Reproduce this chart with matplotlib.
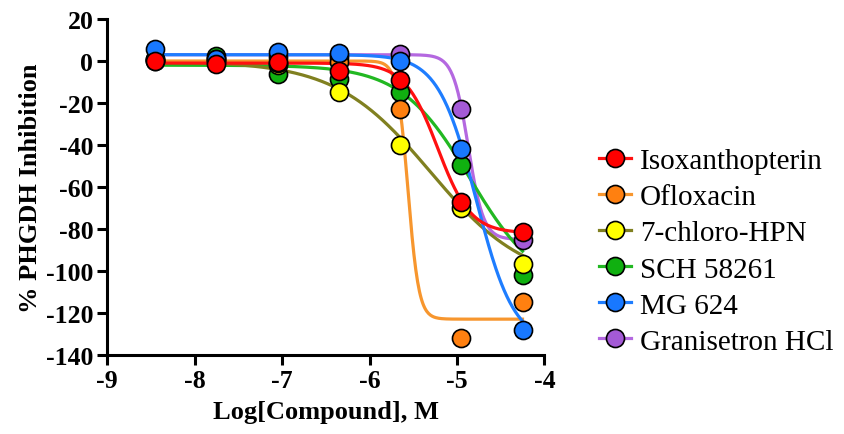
import numpy as np
import matplotlib
matplotlib.use("Agg")
import matplotlib.pyplot as plt
from matplotlib.lines import Line2D

plt.rcParams['font.family'] = ['Liberation Serif', 'DejaVu Serif']
plt.rcParams['axes.unicode_minus'] = False

# log concentration of each dose (M)
log_conc = [-8.45, -7.75, -7.05, -6.35, -5.65, -4.95, -4.25]

names = ['Isoxanthopterin', 'Ofloxacin', '7-chloro-HPN', 'SCH 58261', 'MG 624', 'Granisetron HCl']

# % inhibition
isoxanthopterin = [0, -1.4, -0.5, -5, -9, -67, -81.5]
ofloxacin = [0, -0.5, -1, -0.5, -23, -132, -115]
chloro_hpn = [0.5, 1, -2, -15, -40, -70, -96.5]
sch58261 = [1, 2.4, -6, -8.5, -15, -49.5, -102]
mg624 = [5.7, 1, 4.5, 3.8, 0, -42, -128]
granisetron = [1, 1, 2, 2, 3.3, -23, -85.5]

# 4-parameter fit curves: top, bottom, logIC50, hill slope
fit_top = [-1, 0, 0, -2, 3, 3]
fit_bottom = [-82, -123, -106, -110, -135, -85]
fit_logic50 = [-5.22, -5.56, -5.3, -4.85, -4.78, -4.87]
fit_hill = [2.3, 7, 0.8, 1.1, 2.0, 5]

marker_colors = ['#ff0000', '#ff8010', '#ffff00', '#10b010', '#1878ff', '#a45ad6']
line_colors = ['#ff1010', '#f7962e', '#808020', '#22b822', '#1e7dff', '#b468e0']

series = [isoxanthopterin, ofloxacin, chloro_hpn, sch58261, mg624, granisetron]
draw_order = [5, 3, 2, 1, 4, 0]  # which series ends up on top

fig = plt.figure(figsize=(8.44, 4.35), dpi=100)
ax = fig.add_axes([0.127, 0.182, 0.518, 0.772])

xs = np.linspace(log_conc[0], log_conc[-1], 400)
for k, i in enumerate(draw_order):
    top, bot, c, h = fit_top[i], fit_bottom[i], fit_logic50[i], fit_hill[i]
    curve = bot + (top - bot) / (1 + 10 ** ((xs - c) * h))
    ax.plot(xs, curve, color=line_colors[i], lw=2.3, zorder=2 + k * 0.01)
for k, i in enumerate(draw_order):
    ax.plot(log_conc, series[i], 'o', ms=13, mfc=marker_colors[i], mec='black',
            mew=1.2, zorder=3 + k * 0.01)

ax.set_xlim(-9, -4)
ax.set_ylim(-140, 20)
ax.set_xticks(range(-9, -3))
ax.set_yticks(range(-140, 21, 20))
for s in ['top', 'right']:
    ax.spines[s].set_visible(False)
for s in ['left', 'bottom']:
    ax.spines[s].set_linewidth(2.2)
ax.tick_params(width=2.2, length=7, labelsize=18.5, direction='out', pad=3)
for lab in ax.get_xticklabels() + ax.get_yticklabels():
    lab.set_fontweight('bold')
ax.set_xlabel('Log[Compound], M', fontsize=19, fontweight='bold', labelpad=6)
ax.set_ylabel('% PHGDH Inhibition', fontsize=19, fontweight='bold', labelpad=3)

handles = [Line2D([0], [0], color=line_colors[i], lw=2.3, marker='o', ms=13,
                  mfc=marker_colors[i], mec='black', mew=1.2) for i in range(6)]
fig.legend(handles, names, loc='center left', bbox_to_anchor=(0.71, 0.42),
           frameon=False, fontsize=21, handlelength=1.1, handletextpad=0.3,
           labelspacing=0.33, borderpad=0, borderaxespad=0)

fig.savefig('out.png', dpi=100)
